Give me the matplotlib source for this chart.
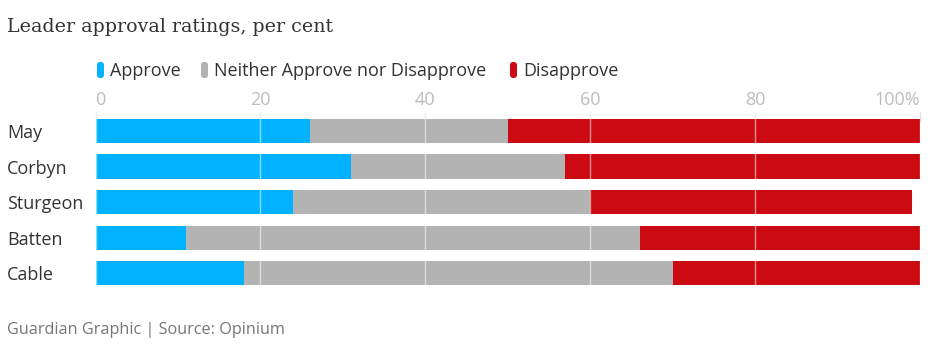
import matplotlib
matplotlib.use("Agg")
import matplotlib.pyplot as plt
import matplotlib.patches as mpatches
from matplotlib.transforms import IdentityTransform

leaders = ["May", "Corbyn", "Sturgeon", "Batten", "Cable"]
approve = [26, 31, 24, 11, 18]
neither = [24, 26, 36, 55, 52]
disapprove = [50, 43, 39, 34, 30]
series_names = ["Approve", "Neither Approve nor Disapprove", "Disapprove"]
x_ticks = [0, 20, 40, 60, 80, 100]
x_tick_labels = ["0", "20", "40", "60", "80", "100%"]

colors = ["#00b2ff", "#b3b3b3", "#cb0a11"]
W, H = 940, 347

def fx(x):
    return x / W

def fy(y):
    return 1 - y / H

plt.rcParams['font.family'] = ['Open Sans', 'DejaVu Sans']

fig = plt.figure(figsize=(W / 100, H / 100), dpi=100)
ax = fig.add_axes([fx(95.5), fy(290), fx(920) - fx(95.5), (290 - 112) / H])

ypos = list(range(len(leaders)))
left = [0] * len(leaders)
for vals, col in zip([approve, neither, disapprove], colors):
    ax.barh(ypos, vals, left=left, height=0.68, color=col, zorder=2)
    left = [a + b for a, b in zip(left, vals)]

# thin light lines at each tick, lighter over the bars
for t in x_ticks:
    ax.axvline(t, color="white", lw=1, alpha=0.55, zorder=3)

ax.set_xlim(0, 100)
ax.set_ylim(4.475, -0.535)
for s in ax.spines.values():
    s.set_visible(False)

ax.xaxis.tick_top()
ax.set_xticks(x_ticks)
ax.set_xticklabels(x_tick_labels)
ax.tick_params(axis="x", direction="in", length=7, width=1, color="#dddddd",
               labelsize=13, labelcolor="#bdbdbd", pad=2)
labels = ax.get_xticklabels()
labels[0].set_ha("left")
labels[-1].set_ha("right")

ax.set_yticks(ypos)
ax.set_yticklabels(leaders)
ax.tick_params(axis="y", length=0, labelsize=13, labelcolor="#333333", pad=(95.5 - 7) * 0.72)
for lab in ax.get_yticklabels():
    lab.set_ha("left")

fig.text(fx(7), fy(27), "Leader approval ratings, per cent", family="DejaVu Serif",
         fontsize=13.7, color="#333333", va="center", ha="left")

# legend drawn by hand
legend_x = [97, 201, 510]
for name, col, lx in zip(series_names, colors, legend_x):
    fig.add_artist(mpatches.FancyBboxPatch((lx, H - 78), 7, 16,
                                           boxstyle="round,pad=0,rounding_size=3",
                                           transform=IdentityTransform(),
                                           facecolor=col, edgecolor="none"))
    fig.text(fx(lx + 13), fy(71), name, fontsize=13, color="#333333",
             va="center", ha="left")

fig.text(fx(7), fy(330), "Guardian Graphic | Source: Opinium", fontsize=11.7,
         color="#767676", va="center", ha="left")

fig.savefig("out.png", dpi=100)
